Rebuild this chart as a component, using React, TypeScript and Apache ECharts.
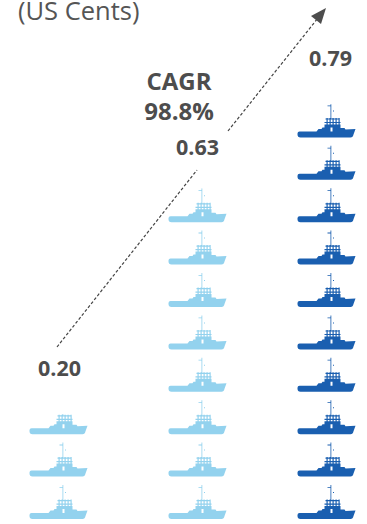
import React, { useEffect, useRef } from "react";
import * as echarts from "echarts";

const categories = ["FY1", "FY2", "FY3"];
const dividends = [0.2, 0.63, 0.79];
const barColors = ["#93d2ee", "#93d2ee", "#1a5fb0"];
const columnShift = [0, 5, 0];
const labelShift = [
  [1, -47],
  [5, -42],
  [4, -47],
];

// Tug silhouette: hull with a window cut out, lattice deckhouse and a thin mast.
const SHIP =
  "path://M0 30Q0 28 2 28L19 28L21 25.5L24 25.5L25 24L27 24L27 21L43 21L43 24.5L47 24.5L48 26L58 25.5L56 31Q55.5 34 53 34L3 34Q0 34 0 31Z" +
  "M33 24L33 28L35 28L35 24Z" +
  "M28 15h14v1.2h-14zM27 18.5h16v1.2h-16z" +
  "M29 14.5h1.2v7h-1.2zM32 14.5h1.2v7h-1.2zM35 14.5h1.2v7h-1.2zM38 14.5h1.2v7h-1.2zM41 14.5h1.2v7h-1.2z" +
  "M33 0h.8v15h-.8zM30 2h3.5v.8h-3.5zM35.5 7h1v1h-1z";

const FONT = "'Open Sans', 'Noto Sans', sans-serif";
const TEXT = "#4d4d4d";

export default function App() {
  const ref = useRef<HTMLDivElement>(null);
  useEffect(() => {
    const chart = echarts.init(ref.current!, undefined, { renderer: "svg" });
    chart.setOption({
      animation: false,
      grid: { left: 58.5, width: 268, top: 46.5, height: 472.5 },
      xAxis: { type: "category", data: categories, show: false, boundaryGap: false },
      yAxis: { type: "value", min: 0, max: 0.9, show: false },
      series: [
        {
          type: "pictorialBar",
          symbol: SHIP,
          symbolSize: [58, 34],
          symbolRepeat: true,
          symbolClip: true,
          symbolMargin: 4.2,
          symbolBoundingData: 0.7916,
          z: 2,
          data: dividends.map((value, i) => ({
            value,
            itemStyle: { color: barColors[i] },
            symbolOffset: [columnShift[i], 0],
          })),
        },
        {
          type: "scatter",
          symbolSize: 0,
          z: 3,
          itemStyle: { opacity: 1 },
          label: {
            show: true,
            position: "inside",
            fontFamily: FONT,
            fontWeight: 700,
            fontSize: 21.5,
            color: TEXT,
            formatter: (p: any) => p.value.toFixed(2),
          },
          data: dividends.map((value, i) => ({
            value,
            label: { offset: labelShift[i] },
          })),
        },
      ],
      graphic: [
        { type: "text", x: 18, y: 10, style: { text: "(US Cents)", font: `400 25.5px ${FONT}`, fill: "#555", verticalAlign: "middle" } },
        { type: "text", x: 179, y: 80, style: { text: "CAGR", font: `700 24px ${FONT}`, fill: TEXT, align: "center", verticalAlign: "middle" } },
        { type: "text", x: 179, y: 110, style: { text: "98.8%", font: `700 24px ${FONT}`, fill: TEXT, align: "center", verticalAlign: "middle" } },
        { type: "line", shape: { x1: 57, y1: 347, x2: 197, y2: 170 }, style: { stroke: "#444", lineWidth: 1.2, lineDash: [3, 2] } },
        { type: "line", shape: { x1: 228, y1: 131, x2: 318, y2: 18 }, style: { stroke: "#444", lineWidth: 1.2, lineDash: [3, 2] } },
        { type: "polygon", shape: { points: [[326, 8], [321, 24], [311, 16]] }, style: { fill: "#4d4d4d" } },
      ],
    });
    return () => chart.dispose();
  }, []);
  return <div ref={ref} style={{ position: "fixed", left: 0, top: 0, width: 367, height: 524, background: "#fff" }} />;
}
